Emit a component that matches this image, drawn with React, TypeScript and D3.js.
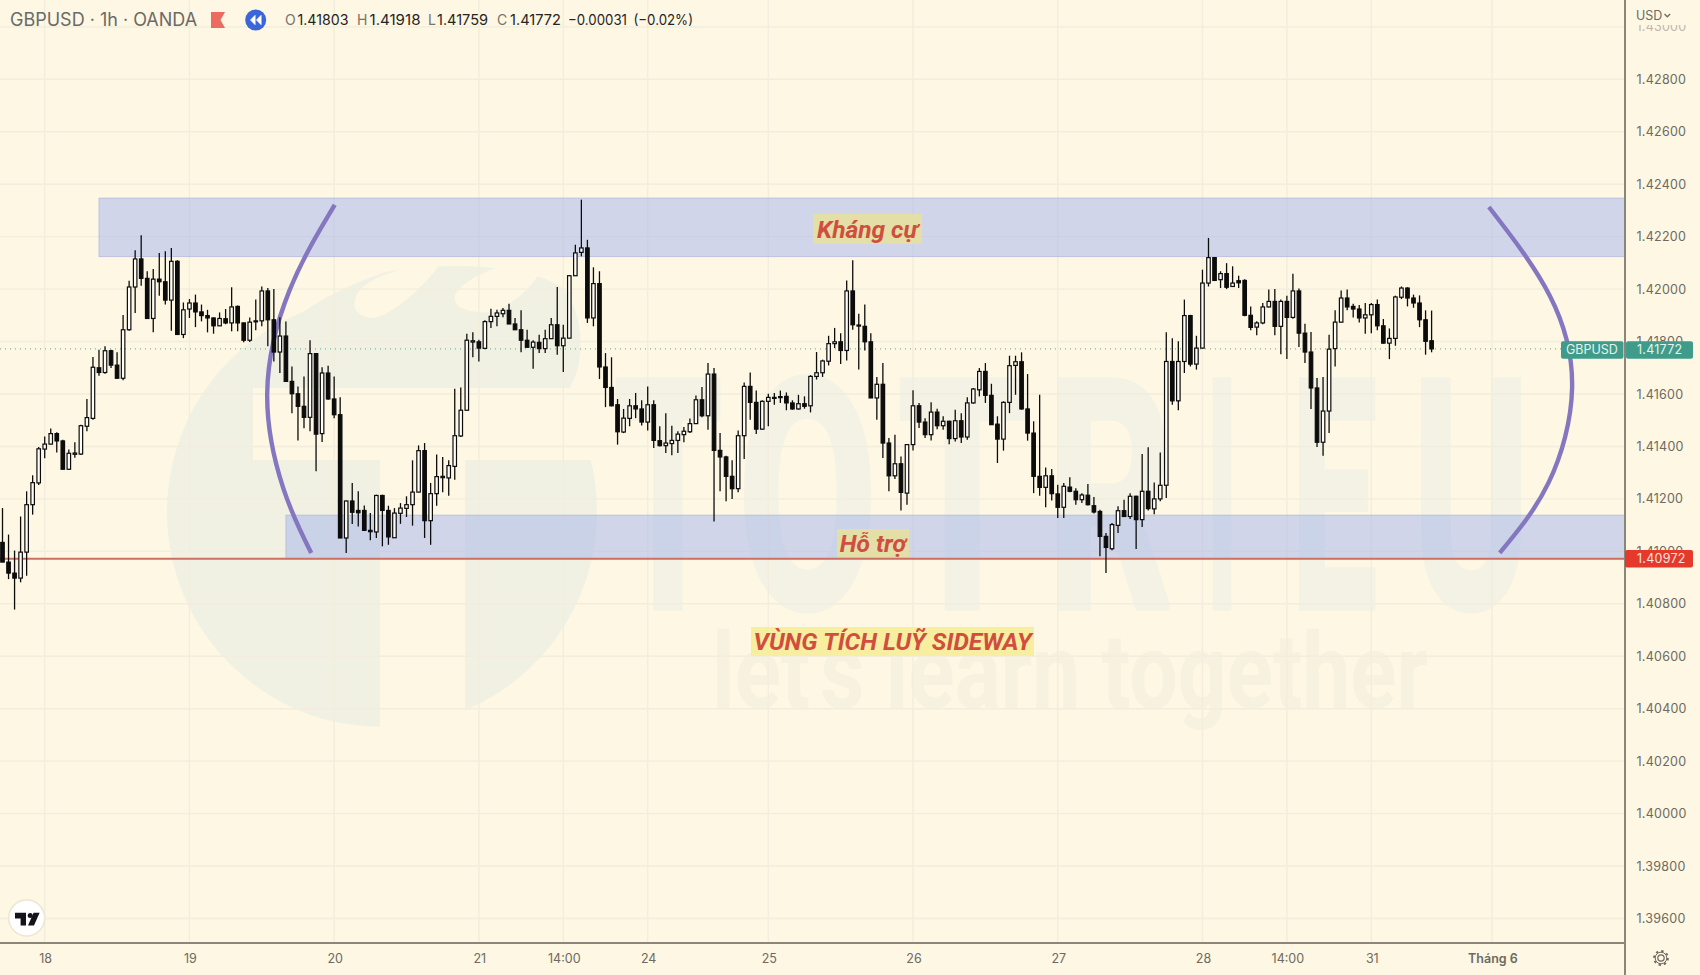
import React from 'react';
import * as d3 from 'd3';

type Bar = [number, number, number, number];

// hourly GBPUSD candles, [open, high, low, close] in price points (price x 100000)
const day17: Bar[] = [
  [141034, 141165, 140959, 140959], [140959, 141064, 140894, 140917], [140917, 141003, 140778, 140898],
  [140898, 141133, 140882, 140997], [140997, 141229, 140907, 141178], [141178, 141290, 141140, 141262],
  [141261, 141398, 141253, 141391],
];
const day18: Bar[] = [
  [141390, 141438, 141355, 141409], [141409, 141468, 141407, 141449], [141449, 141454, 141377, 141421],
  [141421, 141426, 141313, 141313], [141313, 141388, 141311, 141374], [141370, 141416, 141357, 141375],
  [141371, 141483, 141367, 141479], [141477, 141581, 141458, 141510], [141507, 141741, 141502, 141702],
  [141700, 141769, 141670, 141682], [141682, 141782, 141677, 141765], [141765, 141769, 141699, 141710],
  [141710, 141759, 141660, 141660], [141660, 141901, 141652, 141845], [141845, 142032, 141841, 142008],
  [142008, 142148, 141909, 142115], [142115, 142205, 142013, 142041], [142041, 142068, 141888, 141888],
  [141888, 142077, 141835, 142038], [142038, 142138, 141975, 142028], [142028, 142144, 141941, 141958],
  [141958, 142157, 141841, 142106], [142106, 142110, 141825, 141827], [141827, 141949, 141813, 141921],
];
const day19: Bar[] = [
  [141924, 141962, 141890, 141947], [141947, 141979, 141855, 141913], [141913, 141941, 141877, 141899],
  [141899, 141921, 141835, 141890], [141890, 141892, 141830, 141860], [141860, 141911, 141860, 141888],
  [141887, 141924, 141866, 141871], [141871, 142007, 141839, 141932], [141934, 141937, 141839, 141871],
  [141871, 141873, 141797, 141805], [141805, 141892, 141798, 141874], [141876, 141960, 141843, 141879],
  [141879, 142010, 141858, 141993], [141993, 142004, 141782, 141883], [141883, 142000, 141724, 141760],
  [141760, 141893, 141680, 141821], [141821, 141876, 141648, 141648], [141648, 141705, 141527, 141601],
  [141601, 141629, 141423, 141553], [141553, 141667, 141469, 141511], [141511, 141805, 141458, 141754],
  [141754, 141756, 141305, 141447], [141449, 141702, 141417, 141680], [141680, 141708, 141578, 141581],
];
const day20: Bar[] = [
  [141581, 141667, 141508, 141521], [141521, 141588, 141051, 141051], [141051, 141194, 140994, 141192],
  [141192, 141261, 141104, 141149], [141156, 141229, 141095, 141147], [141156, 141175, 141080, 141080],
  [141080, 141146, 141042, 141075], [141074, 141216, 141051, 141213], [141213, 141216, 141019, 141156],
  [141156, 141174, 141025, 141055], [141052, 141165, 141052, 141146], [141145, 141184, 141105, 141165],
  [141164, 141210, 141131, 141178], [141178, 141347, 141098, 141226], [141226, 141404, 141225, 141384],
  [141384, 141413, 141051, 141117], [141117, 141261, 141025, 141220], [141220, 141369, 141174, 141285],
  [141281, 141360, 141225, 141286], [141280, 141347, 141212, 141327], [141324, 141620, 141273, 141441],
  [141440, 141625, 141436, 141538], [141538, 141830, 141538, 141805], [141798, 141835, 141740, 141803],
];
const day21: Bar[] = [
  [141799, 141807, 141724, 141775], [141774, 141881, 141771, 141876], [141876, 141925, 141852, 141896],
  [141896, 141921, 141858, 141909], [141906, 141928, 141893, 141919], [141919, 141944, 141867, 141867],
  [141867, 141890, 141845, 141845], [141845, 141919, 141759, 141805], [141805, 141845, 141778, 141778],
  [141778, 141805, 141696, 141798], [141797, 141826, 141756, 141773], [141773, 141845, 141756, 141811],
  [141811, 141890, 141811, 141864], [141864, 142008, 141750, 141784], [141784, 141864, 141684, 141813],
  [141813, 142054, 141813, 142051], [142051, 142169, 142051, 142138], [142140, 142341, 142125, 142157],
  [142157, 142188, 141871, 141890], [141890, 142083, 141858, 142021], [142021, 142068, 141657, 141703],
  [141703, 141756, 141550, 141625], [141625, 141740, 141553, 141555], [141559, 141581, 141407, 141456],
  [141455, 141543, 141451, 141508], [141507, 141581, 141477, 141555], [141555, 141604, 141508, 141543],
  [141543, 141576, 141480, 141493],
];
const day24: Bar[] = [
  [141493, 141629, 141461, 141559], [141559, 141576, 141394, 141423], [141422, 141477, 141400, 141403],
  [141403, 141527, 141375, 141413], [141411, 141479, 141366, 141423], [141423, 141458, 141375, 141447],
  [141445, 141474, 141416, 141458], [141456, 141507, 141451, 141487], [141487, 141594, 141487, 141578],
  [141578, 141627, 141511, 141517], [141517, 141718, 141464, 141676], [141676, 141699, 141114, 141385],
  [141385, 141451, 141229, 141360], [141360, 141365, 141191, 141286], [141286, 141347, 141200, 141239],
  [141239, 141461, 141225, 141441], [141441, 141644, 141352, 141629], [141629, 141682, 141502, 141568],
  [141568, 141613, 141447, 141466], [141466, 141576, 141464, 141572],
];
const day25: Bar[] = [
  [141572, 141601, 141477, 141587], [141585, 141604, 141559, 141587], [141587, 141613, 141566, 141590],
  [141591, 141606, 141538, 141566], [141566, 141576, 141540, 141543], [141543, 141597, 141540, 141563],
  [141563, 141591, 141544, 141553], [141555, 141672, 141530, 141667], [141667, 141760, 141655, 141681],
  [141681, 141731, 141665, 141726], [141725, 141822, 141709, 141792], [141792, 141852, 141775, 141799],
  [141799, 141832, 141714, 141766], [141766, 142033, 141728, 141993], [141993, 142110, 141845, 141864],
  [141863, 141906, 141693, 141859], [141858, 141941, 141766, 141799], [141799, 141832, 141585, 141585],
  [141585, 141665, 141502, 141637], [141637, 141718, 141356, 141413], [141413, 141432, 141229, 141288],
  [141288, 141445, 141276, 141334], [141334, 141362, 141156, 141225], [141222, 141408, 141178, 141407],
];
const day26: Bar[] = [
  [141407, 141614, 141385, 141555], [141555, 141566, 141470, 141493], [141493, 141508, 141432, 141445],
  [141445, 141569, 141423, 141531], [141531, 141544, 141466, 141479], [141479, 141515, 141464, 141496],
  [141496, 141498, 141408, 141430], [141430, 141540, 141419, 141498], [141498, 141527, 141413, 141436],
  [141436, 141588, 141426, 141566], [141566, 141623, 141563, 141619], [141616, 141699, 141591, 141686],
  [141686, 141718, 141566, 141595], [141595, 141639, 141483, 141483], [141485, 141515, 141337, 141428],
  [141428, 141572, 141384, 141568], [141568, 141746, 141527, 141708], [141709, 141746, 141597, 141723],
  [141723, 141759, 141540, 141543], [141543, 141676, 141422, 141451], [141451, 141496, 141222, 141286],
  [141286, 141597, 141212, 141244], [141244, 141320, 141168, 141288], [141288, 141314, 141194, 141220],
];
const day27: Bar[] = [
  [141219, 141254, 141127, 141168], [141168, 141261, 141127, 141248], [141245, 141283, 141225, 141229],
  [141229, 141241, 141178, 141197], [141197, 141222, 141184, 141215], [141214, 141257, 141175, 141178],
  [141174, 141207, 141144, 141150], [141152, 141159, 140981, 141057], [141057, 141070, 140917, 141015],
  [141010, 141108, 141004, 141102], [141099, 141172, 141070, 141155], [141155, 141197, 141131, 141133],
  [141133, 141222, 141123, 141210], [141210, 141212, 141009, 141121], [141121, 141371, 141093, 141229],
  [141229, 141397, 141156, 141163], [141162, 141263, 141141, 141200], [141200, 141377, 141191, 141252],
  [141252, 141835, 141203, 141724], [141724, 141813, 141559, 141574], [141574, 141801, 141538, 141724],
  [141724, 141960, 141680, 141899], [141899, 141902, 141705, 141714], [141714, 141822, 141693, 141775],
];
const day28: Bar[] = [
  [141775, 142074, 141773, 142023], [142023, 142195, 142010, 142120], [142120, 142122, 142032, 142033],
  [142036, 142068, 142004, 142059], [142059, 142099, 142000, 142007], [142010, 142087, 142008, 142023],
  [142032, 142051, 142004, 142024], [142033, 142038, 141896, 141900], [141900, 141934, 141843, 141854],
  [141855, 141877, 141824, 141871], [141871, 141947, 141866, 141932], [141932, 141998, 141930, 141953],
  [141953, 142000, 141824, 141858], [141858, 141960, 141752, 141953], [141953, 141975, 141733, 141892],
  [141892, 142059, 141887, 141993], [141993, 142002, 141779, 141832], [141832, 141868, 141718, 141760],
  [141760, 141836, 141543, 141623], [141623, 141661, 141398, 141416], [141416, 141665, 141365, 141535],
  [141535, 141826, 141451, 141771], [141773, 141919, 141705, 141874], [141874, 141995, 141873, 141966],
  [141966, 141998, 141919, 141932], [141934, 141944, 141892, 141924], [141924, 141939, 141873, 141890],
  [141890, 141947, 141830, 141902],
];
const day31: Bar[] = [
  [141902, 141947, 141832, 141941], [141941, 141960, 141843, 141860], [141860, 141886, 141792, 141794],
  [141794, 141850, 141733, 141812], [141812, 141975, 141784, 141970], [141969, 142010, 141962, 142004],
  [142004, 142007, 141934, 141966], [141966, 141979, 141929, 141947], [141947, 141976, 141855, 141883],
  [141883, 141919, 141750, 141801], [141803, 141918, 141759, 141772],
];

const sessions = [day17, day18, day19, day20, day21, day24, day25, day26, day27, day28, day31];

const timeLabels = ['18', '19', '20', '21', '14:00', '24', '25', '26', '27', '28', '14:00', '31', 'Tháng 6'];
const timeLabelBars = [7, 31, 55, 79, 93, 107, 127, 151, 175, 199, 213, 227, 247];

const priceTicks = d3.range(0, 18).map(i => 1.43 - i * 0.002);

const lastPrice = 1.41772;
const supportLine = 1.40972;
const resistanceZone = [1.42347, 1.42124];
const supportZone = [1.41138, 1.40972];
const resistanceZoneStart = 16;
const supportZoneStart = 47;

// hand drawn brackets, [bar, price]
const leftBracket: [number, number][] = [
  [55.1, 1.42321], [47.6, 1.41995], [43.9, 1.41604], [46.6, 1.41238], [51.2, 1.40994],
];
const rightBracket: [number, number][] = [
  [246.5, 1.42313], [256.6, 1.41975], [260.3, 1.41623], [256.4, 1.41262], [248.3, 1.40994],
];

const ohlcLabels = ['O', 'H', 'L', 'C'];
const ohlcValues = ['1.41803', '1.41918', '1.41759', '1.41772'];
const ohlcX = [285, 357, 428, 497];
const ohlcValueX = [297.5, 369.5, 437, 510];

const watermarkLetters = ['T', 'O', 'T', 'R', 'I', 'E', 'U'];
const watermarkLeft = [611, 735, 895, 1045, 1203, 1288, 1410];
const watermarkWidth = [114, 145, 135, 130, 38, 92, 122];

const width = 1700;
const height = 975;
const axisX = 1625;
const axisY = 943;

const bg = '#fdf7e4';
const mark = '#f1f1e3';
const letterMark = '#f3f2e4';
const gridColor = '#f2eddc';
const axisColor = '#8a867a';
const labelColor = '#6e6a60';
const uiFont = 'Inter, Roboto, sans-serif';
const noteFont = 'Roboto, sans-serif';

const xScale = d3.scaleLinear().domain([0, 237]).range([2.5, 1431.6]);
const yScale = d3.scaleLinear().domain([1.428, 1.396]).range([79.3, 918.5]);

function Watermark() {
  return (
    <g>
      <circle cx={382} cy={512} r={215} fill={mark} />
      <path d="M262 345 C310 300 350 285 385 272 C440 262 530 262 565 290 C585 320 585 360 570 388 L262 388 Z" fill={mark} />
      <path d="M355 300 C360 275 410 268 445 258 C425 285 400 310 375 318 C360 318 352 310 355 300 Z" fill={bg} />
      <path d="M455 295 C465 275 510 262 550 252 C540 280 520 300 495 312 C470 314 452 308 455 295 Z" fill={bg} />
      <rect x={253} y={388} width={360} height={72} fill={bg} />
      <rect x={380} y={460} width={85} height={280} fill={bg} />
      {watermarkLetters.map((l, i) => (
        <text key={i} x={watermarkLeft[i] + 3} y={607} fontFamily={noteFont} fontWeight={700} fontSize={318}
          textLength={watermarkWidth[i] - 6} lengthAdjust="spacingAndGlyphs" fill={letterMark} stroke={letterMark} strokeWidth={7}>{l}</text>
      ))}
      <text x={712} y={708} fontFamily={noteFont} fontWeight={700} fontSize={106} textLength={716}
        lengthAdjust="spacingAndGlyphs" fill="#f6f2df">let's learn together</text>
    </g>
  );
}

function Candles() {
  const bars = sessions.flat();
  return (
    <g>
      {bars.map((b, i) => {
        const [o, h, l, c] = b.map(v => v / 100000);
        const up = c >= o;
        const x = xScale(i);
        const top = yScale(Math.max(o, c));
        const bottom = yScale(Math.min(o, c));
        return (
          <g key={i}>
            <line x1={x} x2={x} y1={yScale(h)} y2={yScale(l)} stroke="#0c0c0c" strokeWidth={1.3} />
            <rect x={x - 1.75} y={top} width={3.5} height={Math.max(bottom - top, 1)}
              fill={up ? '#fffdf6' : '#0c0c0c'} stroke="#0c0c0c" strokeWidth={1.2} />
          </g>
        );
      })}
    </g>
  );
}

function Note({ text, left, right, top, bottom, fontSize, fill }:
  { text: string; left: number; right: number; top: number; bottom: number; fontSize: number; fill: string }) {
  return (
    <g>
      <rect x={left} y={top} width={right - left} height={bottom - top} fill={fill} />
      <text x={(left + right) / 2} y={(top + bottom) / 2 + fontSize * 0.35} textAnchor="middle"
        fontFamily={noteFont} fontWeight={700} fontStyle="italic" fontSize={fontSize} fill="#d04e40">{text}</text>
    </g>
  );
}

export default function App() {
  const bracket = d3.line<[number, number]>()
    .x(d => xScale(d[0]))
    .y(d => yScale(d[1]))
    .curve(d3.curveNatural);

  const zone = (from: number, prices: number[]) => (
    <rect x={xScale(from)} y={yScale(prices[0])} width={axisX - xScale(from)} height={yScale(prices[1]) - yScale(prices[0])}
      fill="#a3b4ee" fillOpacity={0.5} stroke="#a9aedb" strokeOpacity={0.6} />
  );

  return (
    <svg width={width} height={height} style={{ position: 'fixed', left: 0, top: 0, display: 'block' }}>
      <defs>
        <clipPath id="plot"><rect x={0} y={0} width={axisX} height={axisY} /></clipPath>
        <clipPath id="scale-top"><rect x={axisX} y={25} width={75} height={950} /></clipPath>
      </defs>
      <rect width={width} height={height} fill={bg} />

      <g clipPath="url(#plot)">
        <Watermark />
        {priceTicks.map(p => (
          <line key={p} x1={0} x2={axisX} y1={yScale(p)} y2={yScale(p)} stroke={gridColor} strokeWidth={1.4} />
        ))}
        {timeLabelBars.map((b, i) => (
          <line key={i} x1={xScale(b)} x2={xScale(b)} y1={0} y2={axisY} stroke={gridColor} strokeWidth={1.4} />
        ))}
        {zone(resistanceZoneStart, resistanceZone)}
        {zone(supportZoneStart, supportZone)}
        <line x1={0} x2={axisX} y1={yScale(lastPrice)} y2={yScale(lastPrice)} stroke="#5aa58f" strokeWidth={1} strokeDasharray="1 4" />
        <line x1={0} x2={axisX} y1={yScale(supportLine)} y2={yScale(supportLine)} stroke="#cd6f62" strokeWidth={2} />
        <path d={bracket(leftBracket) ?? ''} fill="none" stroke="#8577bf" strokeWidth={4.4} />
        <path d={bracket(rightBracket) ?? ''} fill="none" stroke="#8577bf" strokeWidth={4.4} />
        <Candles />
      </g>

      <Note text="Kháng cự" left={813} right={922} top={214} bottom={244} fontSize={24.5} fill="#e4dfa6" />
      <Note text="Hỗ trợ" left={837} right={909} top={529} bottom={557} fontSize={24.5} fill="#e4dfa6" />
      <Note text="VÙNG TÍCH LUỸ SIDEWAY" left={751} right={1034} top={627} bottom={656} fontSize={24.5} fill="#f8ee9f" />

      <line x1={axisX} x2={axisX} y1={0} y2={height} stroke={axisColor} strokeWidth={2} />
      <line x1={0} x2={axisX} y1={axisY} y2={axisY} stroke={axisColor} strokeWidth={2} />

      {/* price scale */}
      <g clipPath="url(#scale-top)">
        {priceTicks.map((p, i) => (
          <text key={p} x={1636.5} y={yScale(p) + 4.5} fontFamily={uiFont} fontSize={12.5} fill={labelColor}
            letterSpacing={0.25} opacity={i === 0 ? 0.45 : 1}>{d3.format('.5f')(p)}</text>
        ))}
      </g>
      <text x={1636} y={20} fontFamily={uiFont} fontSize={12.5} fill={labelColor}>USD</text>
      <path d="M1664.5 14 l2.8 2.8 l2.8 -2.8" fill="none" stroke={labelColor} strokeWidth={1.3} />

      <rect x={1561} y={yScale(lastPrice) - 7.7} width={62.5} height={17.5} rx={2} fill="#3f9c8a" />
      <rect x={1626} y={yScale(lastPrice) - 7.7} width={67} height={17.5} rx={2} fill="#3f9c8a" />
      <text x={1566} y={yScale(lastPrice) + 5.6} fontFamily={uiFont} fontSize={12.5} fill="#e6f3ee">GBPUSD</text>
      <text x={1637} y={yScale(lastPrice) + 5.6} fontFamily={uiFont} fontSize={12.5} letterSpacing={0.25} fill="#e6f3ee">{d3.format('.5f')(lastPrice)}</text>
      <rect x={1625} y={yScale(supportLine) - 8.8} width={68} height={17.6} rx={2} fill="#e5392c" />
      <text x={1637} y={yScale(supportLine) + 4.6} fontFamily={uiFont} fontSize={12.5} letterSpacing={0.25} fill="#fbe4dd">{d3.format('.5f')(supportLine)}</text>

      {/* time scale */}
      {timeLabels.map((t, i) => (
        <text key={i} x={xScale(timeLabelBars[i]) + 1} y={963} textAnchor="middle" fontFamily={uiFont} fontSize={12.5}
          fontWeight={i === timeLabels.length - 1 ? 600 : 400} fill={labelColor}>{t}</text>
      ))}
      <g transform="translate(1661 958)" fill="none" stroke={labelColor}>
        <circle r={3.2} strokeWidth={1.2} />
        <circle r={7} strokeWidth={1.8} strokeDasharray="2.4 3.1" />
        <circle r={5.8} strokeWidth={1} />
      </g>

      {/* legend */}
      <text x={10} y={25.5} fontFamily={uiFont} fontSize={18} fill="#6b6a66">GBPUSD · 1h · OANDA</text>
      <path d="M211 12 h14 l-4.5 8 l4.5 8 h-14 Z" fill="#ec6a60" />
      <circle cx={255.7} cy={20} r={10.5} fill="#3b66da" />
      <path d="M255 15.5 l-4.4 4.5 l4.4 4.5 Z M261 15.5 l-4.4 4.5 l4.4 4.5 Z" fill="#fff" stroke="#fff" strokeLinejoin="round" />
      {ohlcLabels.map((l, i) => (
        <g key={l} fontFamily={uiFont} fontSize={14}>
          <text x={ohlcX[i]} y={25} fill="#77746c">{l}</text>
          <text x={ohlcValueX[i]} y={25} textLength={51} lengthAdjust="spacingAndGlyphs" fill="#26241f">{ohlcValues[i]}</text>
        </g>
      ))}
      <text x={568} y={25} fontFamily={uiFont} fontSize={14} textLength={59} lengthAdjust="spacingAndGlyphs" fill="#26241f">−0.00031</text>
      <text x={633.5} y={25} fontFamily={uiFont} fontSize={14} textLength={59.5} lengthAdjust="spacingAndGlyphs" fill="#26241f">(−0.02%)</text>

      {/* TradingView badge */}
      <circle cx={26.7} cy={918} r={18} fill="#fff" stroke="#ece6d4" strokeWidth={1.5} />
      <path d="M15 912.8 h11 v12.8 h-5.4 v-7.2 h-5.6 Z M33.6 912.8 h6 l-5.6 12.8 h-6 Z" fill="#14141a" />
      <circle cx={30.2} cy={915.4} r={2.5} fill="#14141a" />
    </svg>
  );
}
